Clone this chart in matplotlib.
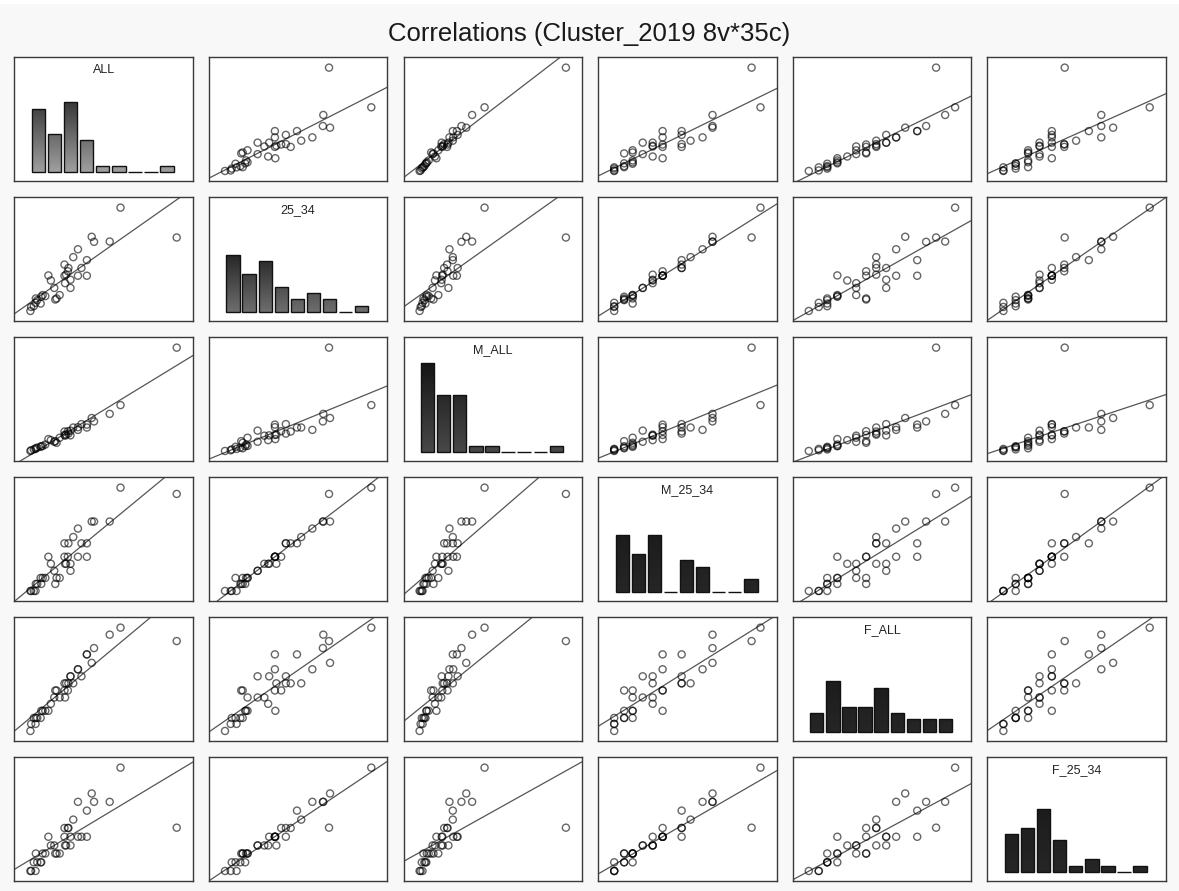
import numpy as np
import matplotlib
matplotlib.use("Agg")
import matplotlib.pyplot as plt
from matplotlib.colors import LinearSegmentedColormap
from matplotlib.patches import Rectangle

plt.rcParams['font.family'] = ['Liberation Sans', 'DejaVu Sans']

# cluster values per variable (35 clusters, scaled 0-100)
labels = ["ALL", "25_34", "M_ALL", "M_25_34", "F_ALL", "F_25_34"]

v_all = [61.6, 100, 41.9, 43.5, 54.2, 32.5, 29.3, 38.6, 23.3, 26.0,
         34.9, 25.6, 12.3, 23.3, 32.5, 38.6, 14.0, 27.4, 23.7, 16.3,
         27.4, 20.0, 17.9, 8.4, 10.2, 3.7, 4.7, 7.0, 2.3, 0.5,
         0.0, 17.0, 24.4, 3.5, 7.4]
v_25_34 = [100, 71.1, 71.8, 66.9, 67.2, 59.7, 52.1, 49.2, 44.9, 41.6,
           41.6, 38.4, 34.4, 34.1, 34.1, 34.1, 29.5, 30.2, 26.9, 22.3,
           22.3, 15.4, 12.1, 15.4, 14.4, 12.1, 10.5, 7.2, 4.6, 3.9,
           0.0, 11.1, 35.1, 7.9, 13.8]
v_m_all = [44.4, 100, 31.9, 28.6, 35.9, 20.4, 22.7, 22.7, 18.8, 16.8,
           26.0, 19.1, 11.5, 15.5, 23.0, 25.5, 10.5, 15.1, 14.8, 8.9,
           19.7, 12.8, 7.9, 4.9, 6.2, 2.6, 3.3, 4.0, 1.5, 0.7,
           0.0, 9.5, 15.8, 2.0, 4.6]
v_m_25_34 = [100, 93.9, 67.2, 67.2, 67.2, 60.4, 52.2, 46.1, 46.1, 46.1,
             46.1, 33.1, 33.1, 33.1, 33.1, 33.1, 26.3, 26.3, 26.3, 19.5,
             19.5, 12.6, 12.6, 12.6, 12.6, 6.8, 6.8, 12.6, 0.0, 0.0,
             0.0, 6.8, 26.3, 0.0, 6.8]
v_f_all = [100, 87.0, 65.9, 80.2, 93.2, 59.7, 46.1, 74.1, 46.1, 46.1,
           52.9, 39.2, 19.5, 39.2, 59.7, 74.1, 26.3, 52.9, 32.4, 32.4,
           52.9, 32.4, 39.2, 19.5, 19.5, 12.6, 12.6, 12.6, 12.6, 6.8,
           0.0, 39.2, 46.1, 6.8, 19.5]
v_f_25_34 = [100, 41.9, 75.0, 66.9, 66.9, 66.9, 49.7, 58.4, 41.6, 41.6,
             33.1, 41.6, 33.1, 33.1, 33.1, 33.1, 24.7, 33.1, 24.7, 24.7,
             24.7, 16.9, 16.9, 16.9, 16.9, 16.9, 8.4, 8.4, 8.4, 0.0,
             0.0, 16.9, 24.7, 0.0, 8.4]

# histogram counts, 9 bins each
hist_all = [10, 6, 11, 5, 1, 1, 0, 0, 1]
hist_25_34 = [9, 6, 8, 4, 2, 3, 2, 0, 1]
hist_m_all = [14, 9, 9, 1, 1, 0, 0, 0, 1]
hist_m_25_34 = [9, 6, 9, 0, 5, 4, 0, 0, 2]
hist_f_all = [3, 8, 4, 4, 7, 3, 2, 2, 2]
hist_f_25_34 = [6, 7, 10, 5, 1, 2, 1, 0, 1]

values = [v_all, v_25_34, v_m_all, v_m_25_34, v_f_all, v_f_25_34]
hists = [hist_all, hist_25_34, hist_m_all, hist_m_25_34, hist_f_all, hist_f_25_34]

# bar shading (top colour, bottom colour) for each diagonal panel
shades = [("#383838", "#a0a0a0"), ("#262626", "#6e6e6e"), ("#161616", "#484848"),
          ("#1c1c1c", "#262626"), ("#1c1c1c", "#262626"), ("#1c1c1c", "#262626")]

fig = plt.figure(figsize=(11.79, 8.91), dpi=100)
fig.patch.set_facecolor("#f8f8f8")

W, H = 1179.0, 891.0
left0, top0 = 14.3, 57.3
dx, dy = 194.6, 140.0
pw, ph = 178.5, 124.0

# white strip along the top edge
fig.patches.append(Rectangle((0, 1 - 4 / H), 1, 4 / H, transform=fig.transFigure,
                             facecolor="white", edgecolor="none"))

fig.text(0.5, 1 - 34 / H, "Correlations (Cluster_2019 8v*35c)", ha="center", va="center",
         fontsize=18.5, color="#1a1a1a")

n = len(labels)
for i in range(n):
    for j in range(n):
        ax = fig.add_axes([(left0 + j * dx) / W, 1 - (top0 + i * dy + ph) / H, pw / W, ph / H])
        ax.set_facecolor("white")
        for s in ax.spines.values():
            s.set_color("#3a3a3a")
            s.set_linewidth(1.0)
        ax.set_xticks([])
        ax.set_yticks([])

        if i == j:
            counts = np.array(hists[i])
            pos = np.arange(len(counts)) + 0.5
            cmap = LinearSegmentedColormap.from_list("shade", [shades[i][1], shades[i][0]])
            grad = np.linspace(0, 1, 256).reshape(-1, 1)
            bars = ax.bar(pos, counts, width=0.83, facecolor="none", edgecolor="#111111",
                          linewidth=1.0, zorder=3)
            for b in bars:
                if b.get_height() <= 0:
                    continue
                im = ax.imshow(grad, extent=[-1.0, 10.1, 0, counts.max()], origin="lower",
                               aspect="auto", cmap=cmap, zorder=2)
                im.set_clip_path(b)
            ax.set_xlim(-1.0, 10.1)
            ax.set_ylim(-1.47, 18.1)
            ax.text(0.5, 0.9, labels[i], transform=ax.transAxes, ha="center", va="center",
                    fontsize=9, color="#222222")
        else:
            x = np.array(values[j])
            y = np.array(values[i])
            rx = x.max() - x.min()
            ry = y.max() - y.min()
            xl = (x.min() - 0.11 * rx, x.max() + 0.11 * rx)
            yl = (y.min() - 0.1 * ry, y.max() + 0.1 * ry)
            ax.scatter(x, y, s=26, facecolors="none", edgecolors=(0, 0, 0, 0.6),
                       linewidths=1.0, zorder=3)
            k, c = np.polyfit(x, y, 1)
            xs = np.array(xl)
            ax.plot(xs, k * xs + c, color="#555555", linewidth=0.9, zorder=2)
            ax.set_xlim(*xl)
            ax.set_ylim(*yl)

fig.savefig("out.png", dpi=100, facecolor=fig.get_facecolor())
